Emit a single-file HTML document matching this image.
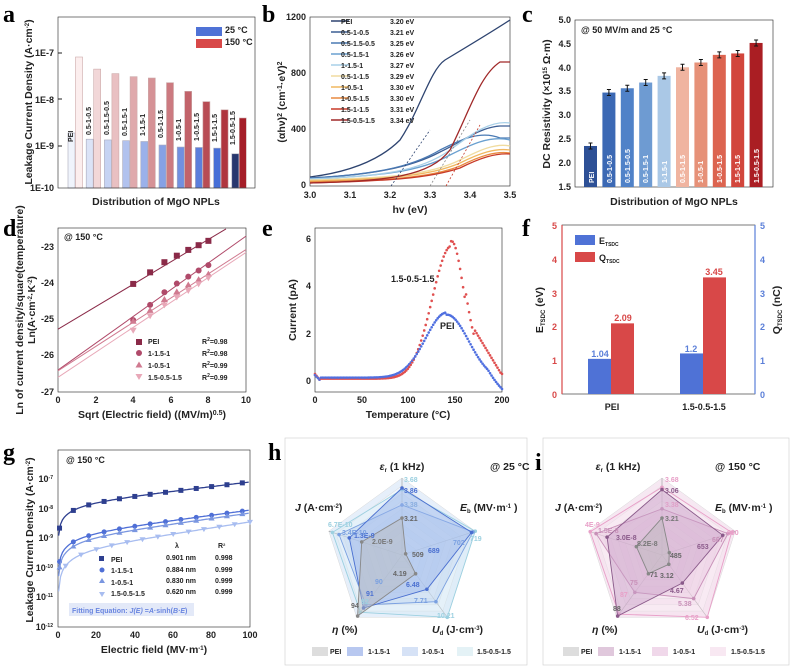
<!DOCTYPE html>
<html><head><meta charset="utf-8"><style>
body{margin:0;background:#fff}
svg{display:block;font-family:"Liberation Sans",sans-serif}
.L{font-family:"Liberation Serif",serif;font-weight:bold;font-size:24px}
.t{font-size:9px;font-weight:bold;fill:#222}
.ax{font-size:10.5px;font-weight:bold;fill:#222}
.s{font-size:7px;font-weight:bold}
</style></head><body>
<svg id="g" width="790" height="667" viewBox="0 0 790 667">
<rect width="790" height="667" fill="#fff"/>
<text class="L" x="3" y="22">a</text>
<text class="L" x="262" y="22">b</text>
<text class="L" x="522" y="22">c</text>
<text class="L" x="3" y="236">d</text>
<text class="L" x="262" y="236">e</text>
<text class="L" x="522" y="236">f</text>
<text class="L" x="3" y="460">g</text>
<text class="L" x="268" y="460">h</text>
<text class="L" x="535" y="470">i</text>
<g id="shapes"></g>
<!-- panel a text -->
<text class="t" x="54" y="56" text-anchor="end">1E-7</text>
<text class="t" x="54" y="103" text-anchor="end">1E-8</text>
<text class="t" x="54" y="149" text-anchor="end">1E-9</text>
<text class="t" x="54" y="191" text-anchor="end">1E-10</text>
<text class="ax" x="156" y="205" text-anchor="middle">Distribution of MgO NPLs</text>
<text class="ax" transform="translate(32,102) rotate(-90)" text-anchor="middle" font-size="9.5">Leakage Current Density (A·cm<tspan dy="-3" font-size="6">-2</tspan><tspan dy="3">)</tspan></text>
<text class="t" x="225" y="33">25 °C</text>
<text class="t" x="225" y="45">150 °C</text>
<g class="s" font-size="5.5" fill="#222">
<text transform="translate(73,142) rotate(-90)">PEI</text>
<text transform="translate(91,135) rotate(-90)">0.5-1-0.5</text>
<text transform="translate(109,135) rotate(-90)">0.5-1.5-0.5</text>
<text transform="translate(127,136) rotate(-90)">0.5-1.5-1</text>
<text transform="translate(145,136) rotate(-90)">1-1.5-1</text>
<text transform="translate(163,138) rotate(-90)">0.5-1-1.5</text>
<text transform="translate(181,141) rotate(-90)">1-0.5-1</text>
<text transform="translate(199,141) rotate(-90)">1-0.5-1.5</text>
<text transform="translate(217,142) rotate(-90)">1.5-1-1.5</text>
<text transform="translate(235,145) rotate(-90)">1.5-0.5-1.5</text>
</g>
<!-- panel b text -->
<g class="t"><text x="306" y="20" text-anchor="end">1200</text><text x="306" y="76" text-anchor="end">800</text><text x="306" y="132" text-anchor="end">400</text><text x="306" y="188" text-anchor="end">0</text>
<text x="310" y="198" text-anchor="middle">3.0</text><text x="350" y="198" text-anchor="middle">3.1</text><text x="390" y="198" text-anchor="middle">3.2</text><text x="430" y="198" text-anchor="middle">3.3</text><text x="470" y="198" text-anchor="middle">3.4</text><text x="510" y="198" text-anchor="middle">3.5</text></g>
<text class="ax" x="410" y="213" text-anchor="middle">hv (eV)</text>
<text class="ax" transform="translate(285,102) rotate(-90)" text-anchor="middle">(αhν)<tspan dy="-3" font-size="7">2</tspan><tspan dy="3"> (cm</tspan><tspan dy="-3" font-size="7">-1</tspan><tspan dy="3">·eV)</tspan><tspan dy="-3" font-size="7">2</tspan></text>
<g class="s" fill="#222">
<text x="341" y="24">PEI</text><text x="390" y="24">3.20 eV</text>
<text x="341" y="35">0.5-1-0.5</text><text x="390" y="35">3.21 eV</text>
<text x="341" y="46">0.5-1.5-0.5</text><text x="390" y="46">3.25 eV</text>
<text x="341" y="57">0.5-1.5-1</text><text x="390" y="57">3.26 eV</text>
<text x="341" y="68">1-1.5-1</text><text x="390" y="68">3.27 eV</text>
<text x="341" y="79">0.5-1-1.5</text><text x="390" y="79">3.29 eV</text>
<text x="341" y="90">1-0.5-1</text><text x="390" y="90">3.30 eV</text>
<text x="341" y="101">1-0.5-1.5</text><text x="390" y="101">3.30 eV</text>
<text x="341" y="112">1.5-1-1.5</text><text x="390" y="112">3.31 eV</text>
<text x="341" y="123">1.5-0.5-1.5</text><text x="390" y="123">3.34 eV</text></g>
<!-- panel c text -->
<g class="t"><text x="571" y="23" text-anchor="end">5.0</text><text x="571" y="47" text-anchor="end">4.5</text><text x="571" y="71" text-anchor="end">4.0</text><text x="571" y="94" text-anchor="end">3.5</text><text x="571" y="118" text-anchor="end">3.0</text><text x="571" y="142" text-anchor="end">2.5</text><text x="571" y="166" text-anchor="end">2.0</text><text x="571" y="190" text-anchor="end">1.5</text></g>
<text class="t" x="581" y="33">@ 50 MV/m and 25 °C</text>
<text class="ax" x="674" y="205" text-anchor="middle">Distribution of MgO NPLs</text>
<text class="ax" transform="translate(550,104) rotate(-90)" text-anchor="middle" font-size="10">DC Resistivity (×10<tspan dy="-3" font-size="6">15</tspan><tspan dy="3"> Ω·m)</tspan></text>
<g class="s" font-size="6" fill="#fff">
<text transform="translate(594,183) rotate(-90)">PEI</text>
<text transform="translate(612,183) rotate(-90)">0.5-1-0.5</text>
<text transform="translate(630,183) rotate(-90)">0.5-1.5-0.5</text>
<text transform="translate(648,183) rotate(-90)">0.5-1.5-1</text>
<text transform="translate(667,183) rotate(-90)">1-1.5-1</text>
<text transform="translate(685,183) rotate(-90)">0.5-1-1.5</text>
<text transform="translate(703,183) rotate(-90)">1-0.5-1</text>
<text transform="translate(722,183) rotate(-90)">1-0.5-1.5</text>
<text transform="translate(740,183) rotate(-90)">1.5-1-1.5</text>
<text transform="translate(759,183) rotate(-90)">1.5-0.5-1.5</text></g>
<!-- panel d text -->
<g class="t"><text x="54" y="250" text-anchor="end">-23</text><text x="54" y="286" text-anchor="end">-24</text><text x="54" y="322" text-anchor="end">-25</text><text x="54" y="358" text-anchor="end">-26</text><text x="54" y="395" text-anchor="end">-27</text>
<text x="58" y="403" text-anchor="middle">0</text><text x="96" y="403" text-anchor="middle">2</text><text x="133" y="403" text-anchor="middle">4</text><text x="171" y="403" text-anchor="middle">6</text><text x="208" y="403" text-anchor="middle">8</text><text x="246" y="403" text-anchor="middle">10</text></g>
<text class="t" x="64" y="240">@ 150 °C</text>
<text class="ax" x="152" y="418" text-anchor="middle">Sqrt (Electric field) ((MV/m)<tspan dy="-3" font-size="7">0.5</tspan><tspan dy="3">)</tspan></text>
<text class="ax" transform="translate(23,310) rotate(-90)" text-anchor="middle" font-size="9">Ln of current density/square(temperature)</text>
<text class="ax" transform="translate(35,310) rotate(-90)" text-anchor="middle" font-size="9">Ln(A·cm<tspan dy="-3" font-size="6">-2</tspan><tspan dy="3">·K</tspan><tspan dy="-3" font-size="6">-2</tspan><tspan dy="3">)</tspan></text>
<g class="s" font-size="7.5" fill="#222"><text x="148" y="344">PEI</text><text x="148" y="356">1-1.5-1</text><text x="148" y="368">1-0.5-1</text><text x="148" y="380">1.5-0.5-1.5</text>
<text x="202" y="344">R<tspan dy="-3" font-size="5">2</tspan><tspan dy="3">=0.98</tspan></text><text x="202" y="356">R<tspan dy="-3" font-size="5">2</tspan><tspan dy="3">=0.98</tspan></text><text x="202" y="368">R<tspan dy="-3" font-size="5">2</tspan><tspan dy="3">=0.99</tspan></text><text x="202" y="380">R<tspan dy="-3" font-size="5">2</tspan><tspan dy="3">=0.99</tspan></text></g>
<!-- panel e text -->
<g class="t"><text x="311" y="242" text-anchor="end">6</text><text x="311" y="289" text-anchor="end">4</text><text x="311" y="337" text-anchor="end">2</text><text x="311" y="384" text-anchor="end">0</text>
<text x="315" y="403" text-anchor="middle">0</text><text x="362" y="403" text-anchor="middle">50</text><text x="408" y="403" text-anchor="middle">100</text><text x="455" y="403" text-anchor="middle">150</text><text x="502" y="403" text-anchor="middle">200</text></g>
<text class="ax" x="408" y="418" text-anchor="middle">Temperature (°C)</text>
<text class="ax" transform="translate(296,310) rotate(-90)" text-anchor="middle">Current (pA)</text>
<text class="t" x="391" y="282">1.5-0.5-1.5</text>
<text class="t" x="440" y="329">PEI</text>
<!-- panel f text -->
<g class="t" style="fill:#d84848"><text x="557" y="229" text-anchor="end">5</text><text x="557" y="263" text-anchor="end">4</text><text x="557" y="297" text-anchor="end">3</text><text x="557" y="330" text-anchor="end">2</text><text x="557" y="364" text-anchor="end">1</text><text x="557" y="398" text-anchor="end">0</text></g>
<g class="t" style="fill:#5b7fd8"><text x="760" y="229">5</text><text x="760" y="263">4</text><text x="760" y="297">3</text><text x="760" y="330">2</text><text x="760" y="364">1</text><text x="760" y="398">0</text></g>
<text class="t" x="612" y="410" text-anchor="middle">PEI</text>
<text class="t" x="704" y="410" text-anchor="middle">1.5-0.5-1.5</text>
<text class="ax" transform="translate(543,310) rotate(-90)" text-anchor="middle">E<tspan dy="2" font-size="6">TSDC</tspan><tspan dy="-2"> (eV)</tspan></text>
<text class="ax" transform="translate(780,310) rotate(-90)" text-anchor="middle">Q<tspan dy="2" font-size="6">TSDC</tspan><tspan dy="-2"> (nC)</tspan></text>
<text class="t" x="599" y="244">E<tspan dy="2" font-size="5">TSDC</tspan></text>
<text class="t" x="599" y="261">Q<tspan dy="2" font-size="5">TSDC</tspan></text>
<text class="t" x="600" y="357" style="fill:#5b7fd8" text-anchor="middle">1.04</text>
<text class="t" x="623" y="321" style="fill:#d84848" text-anchor="middle">2.09</text>
<text class="t" x="691" y="352" style="fill:#5b7fd8" text-anchor="middle">1.2</text>
<text class="t" x="714" y="275" style="fill:#d84848" text-anchor="middle">3.45</text>
<!-- panel g text -->
<g class="t"><text x="53" y="482" text-anchor="end">10<tspan dy="-3" font-size="5">-7</tspan></text><text x="53" y="512" text-anchor="end">10<tspan dy="-3" font-size="5">-8</tspan></text><text x="53" y="541" text-anchor="end">10<tspan dy="-3" font-size="5">-9</tspan></text><text x="53" y="571" text-anchor="end">10<tspan dy="-3" font-size="5">-10</tspan></text><text x="53" y="600" text-anchor="end">10<tspan dy="-3" font-size="5">-11</tspan></text><text x="53" y="630" text-anchor="end">10<tspan dy="-3" font-size="5">-12</tspan></text>
<text x="58" y="638" text-anchor="middle">0</text><text x="96" y="638" text-anchor="middle">20</text><text x="135" y="638" text-anchor="middle">40</text><text x="173" y="638" text-anchor="middle">60</text><text x="211" y="638" text-anchor="middle">80</text><text x="250" y="638" text-anchor="middle">100</text></g>
<text class="t" x="66" y="463">@ 150 °C</text>
<text class="ax" x="154" y="653" text-anchor="middle" font-size="10">Electric field (MV·m<tspan dy="-3" font-size="6">-1</tspan><tspan dy="3">)</tspan></text>
<text class="ax" transform="translate(33,540) rotate(-90)" text-anchor="middle" font-size="9.5">Leakage Current Density (A·cm<tspan dy="-3" font-size="6">-2</tspan><tspan dy="3">)</tspan></text>
<g class="s" fill="#222" font-size="7.5"><text x="111" y="562">PEI</text><text x="111" y="573">1-1.5-1</text><text x="111" y="585">1-0.5-1</text><text x="111" y="596">1.5-0.5-1.5</text></g>
<g class="s" fill="#222" font-size="5"><text x="175" y="548">λ</text><text x="218" y="548">R<tspan dy="-2" font-size="4">2</tspan></text>
<text x="166" y="560">0.901 nm</text><text x="215" y="560">0.998</text><text x="166" y="572">0.884 nm</text><text x="215" y="572">0.999</text><text x="166" y="583">0.830 nm</text><text x="215" y="583">0.999</text><text x="166" y="594">0.620 nm</text><text x="215" y="594">0.999</text></g>
<rect x="69" y="603" width="125" height="13" fill="#e3e9f8"/>
<text x="72" y="613" font-size="7" font-weight="bold" fill="#6a86e0">Fitting Equation: <tspan font-style="italic">J(E)</tspan> =<tspan font-style="italic">A</tspan>·sinh(<tspan font-style="italic">B·E</tspan>)</text>
<!-- panel h text -->
<g class="ax" font-size="10">
<text x="402" y="470" text-anchor="middle"><tspan font-style="italic">ε</tspan><tspan dy="2" font-size="6">r</tspan><tspan dy="-2"> (1 kHz)</tspan></text>
<text x="490" y="470">@ 25 °C</text>
<text x="295" y="511"><tspan font-style="italic">J</tspan> (A·cm<tspan dy="-3" font-size="6">-2</tspan><tspan dy="3">)</tspan></text>
<text x="460" y="511"><tspan font-style="italic">E</tspan><tspan dy="2" font-size="6">b</tspan><tspan dy="-2"> (MV·m</tspan><tspan dy="-3" font-size="6">-1</tspan><tspan dy="3"> )</tspan></text>
<text x="332" y="633"><tspan font-style="italic">η</tspan> (%)</text>
<text x="432" y="633"><tspan font-style="italic">U</tspan><tspan dy="2" font-size="6">d</tspan><tspan dy="-2"> (J·cm</tspan><tspan dy="-3" font-size="6">-3</tspan><tspan dy="3">)</tspan></text>
<text x="618" y="470" text-anchor="middle"><tspan font-style="italic">ε</tspan><tspan dy="2" font-size="6">r</tspan><tspan dy="-2"> (1 kHz)</tspan></text>
<text x="715" y="470">@ 150 °C</text>
<text x="555" y="511"><tspan font-style="italic">J</tspan> (A·cm<tspan dy="-3" font-size="6">-2</tspan><tspan dy="3">)</tspan></text>
<text x="715" y="511"><tspan font-style="italic">E</tspan><tspan dy="2" font-size="6">b</tspan><tspan dy="-2"> (MV·m</tspan><tspan dy="-3" font-size="6">-1</tspan><tspan dy="3"> )</tspan></text>
<text x="592" y="633"><tspan font-style="italic">η</tspan> (%)</text>
<text x="697" y="633"><tspan font-style="italic">U</tspan><tspan dy="2" font-size="6">d</tspan><tspan dy="-2"> (J·cm</tspan><tspan dy="-3" font-size="6">-3</tspan><tspan dy="3">)</tspan></text>
</g>
<g class="s" fill="#222" font-size="7.5">
<text x="330" y="654">PEI</text><text x="368" y="654">1-1.5-1</text><text x="422" y="654">1-0.5-1</text><text x="477" y="654">1.5-0.5-1.5</text>
<text x="581" y="654">PEI</text><text x="619" y="654">1-1.5-1</text><text x="673" y="654">1-0.5-1</text><text x="731" y="654">1.5-0.5-1.5</text></g>
<g class="s" font-size="6.5">
<text x="404" y="521" fill="#666">3.21</text><text x="404" y="507" fill="#8aaee0">3.38</text><text x="404" y="493" fill="#4a6fd0">3.86</text><text x="404" y="482" fill="#9cd0e0">3.68</text>
<text x="372" y="544" fill="#777">2.0E-9</text><text x="354" y="538" fill="#4a6fd0">1.3E-9</text><text x="342" y="535" fill="#7aa0e0">3.4E-10</text><text x="328" y="527" fill="#9cd0e0">6.7E-10</text>
<text x="412" y="557" fill="#666">509</text><text x="428" y="553" fill="#4a6fd0">689</text><text x="453" y="545" fill="#7aa0e0">702</text><text x="470" y="541" fill="#9cd0e0">719</text>
<text x="393" y="576" fill="#666">4.19</text><text x="406" y="587" fill="#4a6fd0">6.48</text><text x="414" y="603" fill="#7aa0e0">7.71</text><text x="437" y="618" fill="#9cd0e0">10.21</text>
<text x="375" y="584" fill="#7aa0e0">90</text><text x="366" y="596" fill="#4a6fd0">91</text><text x="361" y="604" fill="#9cd0e0">92</text><text x="351" y="608" fill="#666">94</text>
<text x="665" y="521" fill="#777">3.21</text><text x="665" y="507" fill="#e0a0c8">3.38</text><text x="665" y="493" fill="#8a5a8a">3.06</text><text x="665" y="482" fill="#e8a0c8">3.68</text>
<text x="637" y="546" fill="#777">8.2E-8</text><text x="616" y="540" fill="#8a5a8a">3.0E-8</text><text x="598" y="533" fill="#c890b8">1.5E-8</text><text x="585" y="527" fill="#e8a0c8">4E-9</text>
<text x="670" y="558" fill="#666">485</text><text x="697" y="549" fill="#8a5a8a">653</text><text x="712" y="542" fill="#c890b8">667</text><text x="727" y="535" fill="#e8a0c8">690</text>
<text x="650" y="577" fill="#666">71</text><text x="630" y="585" fill="#c890b8">75</text><text x="620" y="597" fill="#e8a0c8">87</text><text x="613" y="611" fill="#666">88</text>
<text x="660" y="578" fill="#666">3.12</text><text x="670" y="593" fill="#8a5a8a">4.67</text><text x="678" y="606" fill="#c890b8">5.38</text><text x="685" y="620" fill="#e8a0c8">6.52</text>
</g>
</svg>
<script>
var S=document.getElementById('shapes'),h='';
function R(x,y,w,hh,f,st){h+='<rect x="'+x+'" y="'+y+'" width="'+w+'" height="'+hh+'" fill="'+f+'"'+(st?' stroke="'+st+'" stroke-width="0.6"':'')+'/>';}
function P(d,s,w,f,extra){h+='<path d="'+d+'" stroke="'+(s||'none')+'" stroke-width="'+(w||1)+'" fill="'+(f||'none')+'" '+(extra||'')+'/>';}
function C(x,y,r,f){h+='<circle cx="'+x+'" cy="'+y+'" r="'+r+'" fill="'+f+'"/>';}
function lerp(a,b,t){return a.map(function(v,i){return Math.round(v+(b[i]-v)*t)});}
function col(c){return 'rgb('+c.join(',')+')';}
// panel a
var ly=function(v){return 53+(-7-Math.log10(v))*46.5;};
var b25=[1.9e-9,1.4e-9,1.35e-9,1.3e-9,1.25e-9,1.05e-9,.95e-9,.93e-9,.9e-9,.68e-9],b150=[8.2e-8,4.5e-8,3.6e-8,3.1e-8,2.9e-8,2.3e-8,1.5e-8,9e-9,6e-9,4e-9];
for(var i=0;i<10;i++){var x=68+i*18.2,t=i/9;
var cb=i<9?lerp([240,244,252],[70,110,215],t*1.12):[40,55,110];
var cr=lerp([252,238,238],[165,30,40],t);
R(x,ly(b25[i]),7,188-ly(b25[i]),col(cb),'#aab');R(x+7.5,ly(b150[i]),7,188-ly(b150[i]),col(cr),'#caa');}
R(58,17,197,171,'none','#222');
R(196,27,26,9,'#4f72d6');R(196,39,26,9,'#d84848');
[53,99,146].forEach(function(y){P('M58 '+y+'h4','#222',1);});
// panel b
R(310,17,200,169,'none','#222');
var cols=['#2e4470','#3c5e94','#4a7ab4','#6aa0d0','#a8d0e8','#f0dca0','#f0b860','#e88a40','#c83a28','#a02828'];
for(var i=0;i<10;i++){P('M'+(331)+' '+(21+i*11)+'h18',cols[i],1.5);}
var curves=[
'M310 177 C350 172 380 160 400 140 C420 110 430 70 445 60 C470 45 490 33 510 20',
'M310 178 C370 175 410 168 440 152 C460 143 480 127 500 126 L510 126',
'M310 178 C370 175 410 168 440 150 C460 140 480 130 500 138 L510 138',
'M310 179 C380 176 420 172 450 155 C470 145 490 135 510 140',
'M310 179 C380 176 420 172 450 150 C470 135 490 120 510 123',
'M310 180 C390 178 430 175 460 160 C480 150 495 143 510 146',
'M310 181 C390 179 430 176 460 163 C480 153 495 148 510 150',
'M310 182 C390 180 430 178 460 166 C480 156 495 151 510 153',
'M310 183 C390 181 430 178 460 168 C480 158 495 153 510 154',
'M310 183 C390 181 430 176 450 150 C470 110 480 75 500 62 L510 62'];
for(var i=0;i<10;i++)P(curves[i],cols[i],1.3);
P('M391 186 L430 130','#2e4470',0.8,'','stroke-dasharray="2,2"');
P('M430 186 L470 120','#888',0.8,'','stroke-dasharray="2,2"');
P('M446 186 L480 125','#c83a28',0.8,'','stroke-dasharray="2,2"');
// panel c
R(575,20,198,167,'none','#222');
var rv=[2.36,3.48,3.57,3.69,3.83,4.01,4.11,4.27,4.3,4.52];
var cc=[[45,80,150],[60,105,180],[80,130,200],[110,155,210],[170,200,230],[240,180,160],[230,145,120],[220,100,80],[210,70,60],[170,30,35]];
for(var i=0;i<10;i++){var x=584+i*18.4,y=187-(rv[i]-1.5)*47.7;R(x,y,13,187-y,col(cc[i]));P('M'+(x+6.5)+' '+(y-3)+'v6M'+(x+4.5)+' '+(y-3)+'h4M'+(x+4.5)+' '+(y+3)+'h4','#111',1);}
// panel d
R(58,228,188,164,'none','#222');
function dx(v){return 58+v*18.8;} function dy(v){return 247+(-23-v)*36.2;}
var dl=[[-25.27,0.31,'#8a2a48'],[-26.4,0.37,'#b04a6a'],[-26.42,0.335,'#d07a90'],[-26.6,0.345,'#e8a8b8']];
var pts=[[-24.02,-23.7,-23.42,-23.24,-23.08,-22.95,-22.83],[-25.02,-24.6,-24.25,-24.01,-23.82,-23.65,-23.5],[-25.05,-24.75,-24.45,-24.24,-24.05,-23.9,-23.75],[-25.3,-24.9,-24.6,-24.38,-24.2,-24.02,-23.85]];
var sx=[4,4.9,5.66,6.32,6.93,7.48,8];
for(var k=0;k<4;k++){var a=dl[k];var x2=Math.min(10,(-22.5-a[0])/a[1]);P('M'+dx(0)+' '+dy(a[0])+' L'+dx(x2)+' '+dy(a[0]+a[1]*x2),a[2],1);
for(var j=0;j<7;j++){var X=dx(sx[j]),Y=dy(pts[k][j]);if(k==0)R(X-3,Y-3,6,6,a[2]);else if(k==1)C(X,Y,3,a[2]);else if(k==2)P('M'+X+' '+(Y-3.5)+'l3.5 6h-7z','',1,a[2]);else P('M'+X+' '+(Y+3.5)+'l3.5 -6h-7z','',1,a[2]);}}
R(136,339,6,6,dl[0][2]);C(139,353,3,dl[1][2]);P('M139 361.5l3.5 6h-7z','',1,dl[2][2]);P('M139 380l3.5 -6h-7z','',1,dl[3][2]);
// panel e
R(315,228,187,164,'none','#222');
function ex(v){return 315+v*0.935;} function ey(v){return 381-v*23.7;}
function peak(t,A,c,w,base){return base+A*Math.exp(-Math.pow((t-c)/w,2));}
for(var t=0;t<=200;t+=1.6){var r=t<145?peak(t,5.6,146,29,0.1):(t<170?peak(t,5.6,146,19,0.3)+(t>160?0.5:0):Math.max(0.3,2.2-(t-170)*0.065));
var b=t<140?peak(t,2.75,141,32,0.14):peak(t,2.8,141,33,0.0)-(t>185?(t-185)*0.03:0);
if(t<5){r=0.3-t*0.05;b=0.25-t*0.04;}
C(ex(t),ey(r),1.3,'#e05050');C(ex(t),ey(b),1.3,'#5070e0');}
// panel f
R(562,225,193,169,'none','#222');
function fy(v){return 394-v*33.8;}
R(588,fy(1.04),23,394-fy(1.04),'#4f72d6');R(611,fy(2.09),23,394-fy(2.09),'#d84848');
R(680,fy(1.2),23,394-fy(1.2),'#4f72d6');R(703,fy(3.45),23,394-fy(3.45),'#d84848');
R(575,235,20,10,'#4f72d6');R(575,252,20,10,'#d84848');
P('M562 225v169','#d84848',1.2);P('M755 225v169','#5b7fd8',1.2);
// panel g
R(58,450,192,177,'none','#222');
function gx(v){return 58+v*1.92;} function gy(l){return 479+(-7-l)*29.6;}
var gs=[[-7.1,'#2e3f8f',0.85],[-8.05,'#4f6fd6',0.95],[-8.15,'#7a96e0',1],[-8.45,'#a8bdf0',1.1]];
for(var k=0;k<4;k++){var d='';for(var v=0.3;v<=100;v+=1){var l=gs[k][0]+Math.log10(Math.sinh(v/100*3)/Math.sinh(3))*gs[k][2]*0.7;d+=(v==0.3?'M':'L')+gx(v).toFixed(1)+' '+gy(l).toFixed(1);}P(d,gs[k][1],1.3);
for(var v=(k==3?4:0);v<=100;v+=8){var vv=Math.max(v,0.8);var l=gs[k][0]+Math.log10(Math.sinh(vv/100*3)/Math.sinh(3))*gs[k][2]*0.7;var X=gx(vv),Y=gy(l);if(k==0)R(X-2.5,Y-2.5,5,5,gs[k][1]);else if(k==1)C(X,Y,2.5,gs[k][1]);else if(k==2)P('M'+X+' '+(Y-3)+'l3 5h-6z','',1,gs[k][1]);else P('M'+X+' '+(Y+3)+'l3 -5h-6z','',1,gs[k][1]);}}
R(99,556,5,5,gs[0][1]);C(102,570,2.5,gs[1][1]);P('M102 578l3 5h-6z','',1,gs[2][1]);P('M102 597l3 -5h-6z','',1,gs[3][1]);
// radar
function radar(cx,cy,Rr,ser,grid,box){R(box[0],box[1],box[2],box[3],'#fff','#ccc');
function pt(f,i){var a=(-90+72*i)*Math.PI/180;return [cx+Rr*f*Math.cos(a),cy+Rr*f*Math.sin(a)];}
function poly(fs){return fs.map(function(f,i){var p=pt(f,i);return (i?'L':'M')+p[0].toFixed(1)+' '+p[1].toFixed(1);}).join('')+'Z';}
for(var g=10;g>=1;g--)P(poly([g/10,g/10,g/10,g/10,g/10]),'#d8d8d8',0.5,grid[g%2]);
for(var i=0;i<5;i++){var p=pt(1,i);P('M'+cx+' '+cy+'L'+p[0]+' '+p[1],'#999',0.6);}
for(var k=ser.length-1;k>=0;k--){P(poly(ser[k][0]),ser[k][1],0.9,ser[k][2],'fill-opacity="0.45"');ser[k][0].forEach(function(f,i){var p=pt(f,i);C(p[0],p[1],1.8,ser[k][1]);});}}
radar(402,555,77,[[[0.48,0.05,0.3,0.98,0.55],'#888','#bbb'],[[0.87,0.95,0.55,0.85,0.72],'#4a6fd0','#9ab4ea'],[[0.65,0.97,0.75,0.8,0.86],'#7aa0e0','#c0d4f0'],[[0.85,1,1,0.92,0.95],'#9cd0e0','#d8eaf6']],['#e6effa','#f0f6fc'],[285,438,242,227]);
radar(662,555,77,[[[0.48,0.1,0.15,0.3,0.35],'#888','#bbb'],[[0.85,0.83,0.45,0.98,0.75],'#8a5a8a','#c8a0c8'],[[0.6,0.9,0.7,0.6,0.9],'#c890b8','#e8c8e0'],[[0.88,0.95,1,0.95,0.98],'#e8a0c8','#f6e0ee']],['#f6e8f2','#faf2f8'],[543,438,246,227]);
[[312,'#ddd'],[347,'#b8c8f0'],[402,'#d6e2f6'],[457,'#e4f2f6'],[563,'#ddd'],[598,'#e0c8dc'],[652,'#f0d8ea'],[710,'#f8e8f2']].forEach(function(a){R(a[0],647,16,9,a[1]);});
S.innerHTML=h;
</script>
</body></html>
